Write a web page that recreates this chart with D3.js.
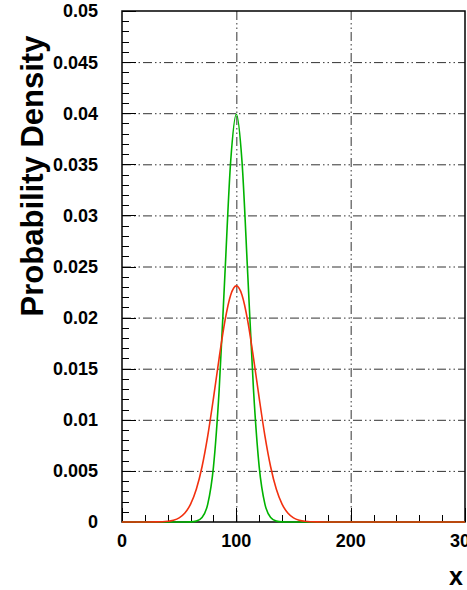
<!DOCTYPE html>
<html><head><meta charset="utf-8">
<script src="https://cdn.jsdelivr.net/npm/d3@7"></script>
<style>
html,body{margin:0;padding:0;background:#fff;}
svg{display:block;}
text{font-family:"Liberation Sans",Arial,Helvetica,sans-serif;font-weight:bold;fill:#000;}
</style></head>
<body>
<svg id="chart" width="467" height="590"></svg>
<script>
// ---- data ----
const xValues = [0,10,20,30,40,45,50,55,60,65,70,75,80,85,90,95,100,105,110,115,120,125,130,135,140,145,150,155,160,170,180,200,250,300];
const greenValues = [0,0,0,0,0,0,0,0,0.00001,0.000087,0.00044,0.00175,0.0054,0.01296,0.0242,0.0352,0.0399,0.0352,0.0242,0.01296,0.0054,0.00175,0.00044,0.000087,0.00001,0,0,0,0,0,0,0,0,0];
const redValues = [0,0,0,0.00001,0.00007,0.000176,0.00041,0.00088,0.00175,0.0032,0.00541,0.00843,0.01212,0.01607,0.01966,0.02219,0.0231,0.02219,0.01966,0.01607,0.01212,0.00843,0.00541,0.0032,0.00175,0.00088,0.00041,0.000176,0.00007,0.00001,0,0,0,0];
const xTickValues = [0,100,200,300];
const xTickLabels = ["0","100","200","300"];
const yTickValues = [0,0.005,0.01,0.015,0.02,0.025,0.03,0.035,0.04,0.045,0.05];
const yTickLabels = ["0","0.005","0.01","0.015","0.02","0.025","0.03","0.035","0.04","0.045","0.05"];
const xTitle = "x";
const yTitle = "Probability Density";

// ---- layout ----
const L = 122, R = 465, T = 11, B = 522;
const svg = d3.select("#chart");
const x = d3.scaleLinear().domain([0,300]).range([L,R]);
const y = d3.scaleLinear().domain([0,0.05]).range([B,T]);

// grid
const gridDash = "9,3,1.5,3,1.5,3";
svg.append("g").selectAll("line").data(yTickValues.filter(v=>v>0 && v<0.05)).join("line")
  .attr("x1",L).attr("x2",R).attr("y1",d=>y(d)+0.5).attr("y2",d=>y(d)+0.5)
  .attr("stroke","#333").attr("stroke-width",1).attr("stroke-dasharray",gridDash);
svg.append("g").selectAll("line").data(xTickValues.filter(v=>v>0 && v<300)).join("line")
  .attr("y1",T).attr("y2",B).attr("x1",d=>x(d)+0.5).attr("x2",d=>x(d)+0.5)
  .attr("stroke","#333").attr("stroke-width",1).attr("stroke-dasharray",gridDash);

// axes with inward ticks
const yMinor = d3.range(0,0.0505,0.001);
svg.append("g").selectAll("line").data(yMinor).join("line")
  .attr("x1",L).attr("x2",(d,i)=> i%5===0 ? L+14 : L+7)
  .attr("y1",d=>Math.round(y(d))+0.5).attr("y2",d=>Math.round(y(d))+0.5)
  .attr("stroke","#000").attr("stroke-width",1);
const xMinor = d3.range(0,301,20);
svg.append("g").selectAll("line").data(xMinor).join("line")
  .attr("y1",B).attr("y2",d=> d%100===0 ? B-14 : B-7)
  .attr("x1",d=>Math.round(x(d))+0.5).attr("x2",d=>Math.round(x(d))+0.5)
  .attr("stroke","#000").attr("stroke-width",1);

// frame
svg.append("rect").attr("x",L).attr("y",T).attr("width",R-L).attr("height",B-T)
  .attr("fill","none").attr("stroke","#000").attr("stroke-width",1.5);

// curves
const pts = (vals)=> xValues.map((xv,i)=>[xv,vals[i]]);
const line = d3.line().x(d=>x(d[0])).y(d=>y(d[1])).curve(d3.curveMonotoneX);
svg.append("path").attr("d",line(pts(greenValues))).attr("fill","none")
  .attr("stroke","#00b300").attr("stroke-width",1.6);
svg.append("path").attr("d",line(pts(redValues))).attr("fill","none")
  .attr("stroke","#f2300f").attr("stroke-width",1.6);

// tick labels
svg.append("g").selectAll("text").data(yTickValues).join("text")
  .attr("x",98).attr("y",d=>y(d)).attr("dy","0.36em").attr("text-anchor","end")
  .attr("font-size",18).text((d,i)=>yTickLabels[i]);
svg.append("g").selectAll("text").data(xTickValues).join("text")
  .attr("x",d=>x(d)).attr("y",547).attr("text-anchor","middle")
  .attr("font-size",18).text((d,i)=>xTickLabels[i]);

// titles
svg.append("text").attr("transform","translate(43,176) rotate(-90)")
  .attr("text-anchor","middle").attr("font-size",31).text(yTitle);
svg.append("text").attr("x",463).attr("y",585).attr("text-anchor","end")
  .attr("font-size",25).text(xTitle);
</script>
</body></html>
